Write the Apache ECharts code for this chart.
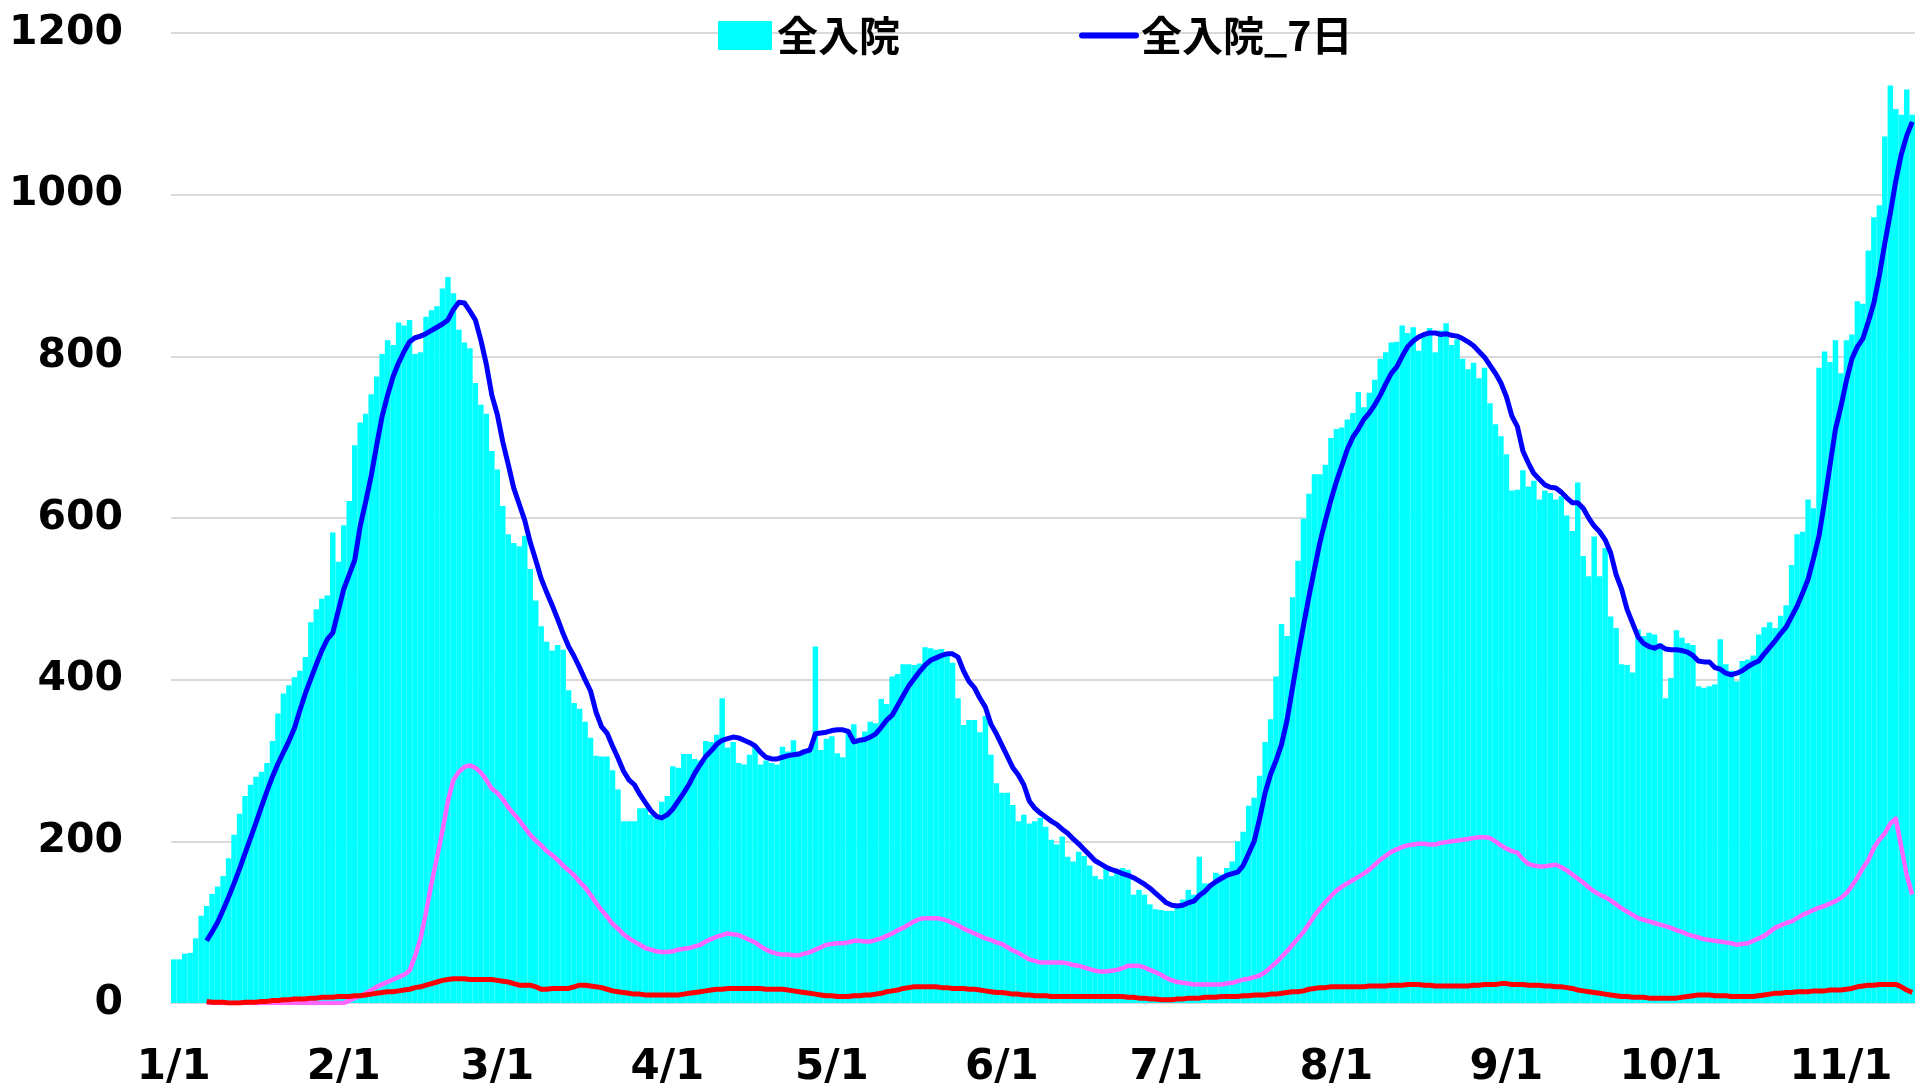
<!DOCTYPE html>
<html>
<head>
<meta charset="utf-8">
<title>全入院</title>
<script src="https://cdn.jsdelivr.net/npm/echarts/dist/echarts.min.js"></script>
<style>
  html, body { margin: 0; padding: 0; background: #fff; }
  #main { width: 1925px; height: 1089px; }
</style>
</head>
<body>
<div id="main"></div>
<script>
// 日付 (1/1 から 318 日分)
var monthDays = [31, 28, 31, 30, 31, 30, 31, 31, 30, 31, 30];
var dayCount = 318;

// 全入院 (日別)
var allAdmit = [
  54,54,61,62,80,108,120,135,144,157,
  179,208,234,256,270,280,286,297,324,358,
  383,393,403,411,428,471,487,500,504,582,
  546,591,621,690,718,729,753,775,803,820,
  814,842,838,845,803,805,849,857,862,884,
  898,878,833,817,810,767,740,729,683,660,
  615,580,569,565,578,537,498,466,447,436,
  443,437,387,371,364,348,328,306,305,305,
  288,264,225,225,225,241,241,233,228,249,
  256,293,291,308,308,302,300,324,323,332,
  377,316,323,297,295,307,317,295,300,297,
  295,317,311,325,311,314,313,441,313,327,
  330,309,304,336,345,325,336,348,346,376,
  370,404,407,419,419,418,420,440,439,437,
  438,432,421,377,344,350,350,335,355,307,
  272,260,260,245,225,233,222,225,229,218,
  202,196,206,181,175,187,182,170,157,153,
  168,157,163,167,165,134,140,134,122,116,
  115,114,114,120,128,140,134,181,148,148,
  161,159,167,175,200,212,244,254,281,323,
  351,404,469,454,502,547,599,630,654,654,
  666,699,710,712,722,730,756,737,755,771,
  797,805,817,818,838,829,836,807,824,835,
  805,832,841,814,821,797,784,792,773,786,
  742,716,701,679,634,635,659,639,646,623,
  634,631,623,627,603,584,644,553,528,577,
  528,563,478,464,419,418,409,462,454,458,
  456,445,377,402,461,452,445,443,392,390,
  392,394,450,419,411,398,423,425,430,456,
  465,471,464,479,492,542,580,583,623,612,
  786,806,793,820,779,820,827,868,865,931,
  972,987,1072,1135,1106,1099,1130,1099
];

// 線は 1/7 から
var lineStart = 6;

// 全入院_7日
var allAdmit7 = [
  77,88,100,115,131,148,166,185,204,223,
  243,262,280,296,310,324,340,362,383,401,
  419,436,450,458,485,512,530,548,590,620,
  652,690,726,752,775,792,806,818,823,825,
  828,832,836,840,845,858,867,866,856,845,
  820,790,752,728,694,666,637,617,597,570,
  548,525,508,492,475,457,441,429,415,400,
  386,360,342,334,318,303,287,276,270,258,
  248,238,231,229,233,240,250,260,271,284,
  295,305,312,320,325,327,329,328,325,322,
  318,310,304,302,302,304,306,307,308,311,
  313,333,334,335,337,338,338,336,323,325,
  326,329,333,341,350,356,368,380,392,401,
  410,418,424,427,430,432,432,428,411,398,
  390,377,366,345,333,319,305,291,282,270,
  250,241,235,230,225,221,215,210,203,197,
  190,183,176,172,168,165,163,160,158,155,
  151,147,142,136,130,124,121,120,121,124,
  126,133,138,145,150,154,158,160,162,170,
  185,200,228,260,283,300,320,350,390,430,
  467,503,537,570,597,622,645,665,685,700,
  710,722,730,740,752,766,779,787,800,812,
  819,824,827,829,829,827,828,826,825,822,
  818,813,806,799,789,779,767,750,726,713,
  683,668,655,648,641,638,637,632,625,619,
  619,612,600,590,583,573,557,530,512,487,
  470,453,445,441,439,442,438,437,437,436,
  434,430,423,422,422,415,413,408,406,408,
  411,416,420,423,432,440,448,457,465,478,
  491,507,524,550,578,620,665,710,738,770,
  797,812,822,843,866,900,940,977,1017,1050,
  1073,1090
];

// ピンク線
var pinkLine = [
  0,0,0,0,0,0,0,0,0,0,
  0,0,0,0,0,0,0,0,0,0,
  0,0,0,0,0,0,
  3,6,9,12,16,20,23,26,29,32,
  35,40,58,80,112,148,180,213,250,276,
  286,292,294,291,285,276,265,260,252,242,
  234,226,217,208,201,195,188,183,177,170,
  164,158,150,143,134,124,115,107,98,92,
  85,80,76,72,68,66,64,63,63,64,
  66,67,68,70,72,76,79,82,84,86,
  85,84,81,78,75,70,66,63,61,60,
  60,59,59,61,63,66,69,72,73,74,
  74,75,77,77,76,76,78,80,83,86,
  90,93,97,101,104,105,105,105,104,102,
  99,96,92,89,86,83,80,78,75,73,
  69,65,62,58,54,52,50,50,50,50,
  50,49,47,46,44,42,40,39,39,40,
  41,43,46,46,46,44,41,38,35,31,
  28,26,25,24,23,23,23,23,23,23,
  24,25,27,29,30,32,34,38,44,50,
  57,64,72,80,88,98,108,117,125,132,
  139,144,148,152,156,160,165,171,177,182,
  187,190,193,195,196,197,197,196,196,198,
  199,200,201,202,203,204,205,205,204,200,
  195,191,188,186,178,172,170,169,169,170,
  171,168,164,159,154,149,143,138,134,131,
  127,122,117,113,109,105,103,101,99,97,
  95,93,90,88,85,83,81,79,78,77,
  76,75,74,72,73,74,77,80,83,88,
  93,96,99,101,105,109,112,115,118,120,
  123,126,130,136,145,155,167,177,192,202,
  210,222,228,193,158,134
];

// 赤線
var redLine = [
  2,1,1,1,0,0,0,1,1,1,
  2,2,3,3,4,4,5,5,5,6,
  6,7,7,7,8,8,8,9,9,10,
  11,12,13,14,14,15,16,17,19,20,
  22,24,26,28,29,30,30,30,29,29,
  29,29,29,28,27,26,24,22,22,22,
  20,17,17,18,18,18,18,20,22,22,
  21,20,19,17,15,14,13,12,11,11,
  10,10,10,10,10,10,10,11,12,13,
  14,15,16,17,17,18,18,18,18,18,
  18,18,17,17,17,17,16,15,14,13,
  12,11,10,9,9,8,8,8,9,9,
  10,10,11,12,14,15,16,18,19,20,
  20,20,20,20,19,19,18,18,18,17,
  17,16,15,14,13,13,12,11,11,10,
  10,9,9,9,8,8,8,8,8,8,
  8,8,8,8,8,8,8,8,7,7,
  6,6,5,5,4,4,4,5,5,6,
  6,6,7,7,7,8,8,8,8,9,
  9,10,10,10,11,11,12,13,14,14,
  15,17,18,19,19,20,20,20,20,20,
  20,20,21,21,21,21,22,22,22,23,
  23,23,22,22,21,21,21,21,21,21,
  21,22,22,23,23,23,24,24,23,23,
  23,22,22,22,21,21,20,20,19,18,
  16,15,14,13,12,11,10,9,8,8,
  7,7,7,6,6,6,6,6,6,7,
  8,9,10,10,10,9,9,9,8,8,
  8,8,8,9,10,11,12,12,13,13,
  14,14,14,15,15,15,16,16,16,17,
  18,20,21,22,22,23,23,23,23,20,
  16,13
];

function makeDates(){
    var out = [];
    for (var m = 0; m < monthDays.length; m++) {
        for (var d = 1; d <= monthDays[m]; d++) {
            if (out.length < dayCount) out.push((m + 1) + '/' + d);
        }
    }
    return out;
}

function padLine(arr){
    var out = [];
    for (var i = 0; i < lineStart; i++) out.push(null);
    return out.concat(arr);
}

// 月初めだけ表示
function isMonthStart(index, value){
    return value.split('/')[1] === '1';
}

var dates = makeDates();
var myChart = echarts.init(document.getElementById('main'));
var option = {
    animation: false,
    textStyle: { fontFamily: 'DejaVu Sans, Noto Sans CJK JP' },
    legend: {
        left: 713,
        top: 10,
        itemWidth: 54,
        itemHeight: 29,
        itemGap: 179,
        data: [
            { name: '全入院', icon: 'rect' },
            { name: '全入院_7日', itemStyle: { opacity: 0 }, lineStyle: { width: 6, cap: 'round' } }
        ],
        textStyle: {
            fontSize: 41,
            fontWeight: 'bold',
            color: '#000',
            fontFamily: 'Noto Sans CJK JP'
        }
    },
    grid: { left: 171, right: 10, top: 33, bottom: 86, outerBoundsMode: 'none' },
    xAxis: {
        type: 'category',
        data: dates,
        boundaryGap: true,
        axisLine: { lineStyle: { color: '#d9d9d9', width: 2 } },
        axisTick: {
            interval: isMonthStart,
            length: 15,
            lineStyle: { color: '#d9d9d9', width: 2 }
        },
        axisLabel: {
            interval: isMonthStart,
            margin: 44,
            fontSize: 42,
            fontWeight: 'bold',
            color: '#000'
        }
    },
    yAxis: {
        type: 'value',
        min: 0,
        max: 1200,
        interval: 200,
        axisLine: { show: false },
        axisTick: { show: false },
        splitLine: { lineStyle: { color: '#d9d9d9', width: 2 } },
        axisLabel: {
            margin: 48,
            fontSize: 41,
            fontWeight: 'bold',
            color: '#000',
            padding: [0, 0, 16, 0],
            formatter: function(v){ return String(v); }
        }
    },
    series: [{
        name: '全入院',
        type: 'bar',
        data: allAdmit,
        barCategoryGap: '0%',
        barGap: 0,
        itemStyle: { color: '#00ffff' }
    }, {
        name: '全入院_7日',
        type: 'line',
        data: padLine(allAdmit7),
        symbol: 'none',
        lineStyle: { color: '#0000ff', width: 5, join: 'round' },
        itemStyle: { color: '#0000ff' }
    }, {
        name: 'pink',
        type: 'line',
        data: padLine(pinkLine),
        symbol: 'none',
        lineStyle: { color: '#ff66ff', width: 4.5, join: 'round' },
        itemStyle: { color: '#ff66ff' }
    }, {
        name: 'red',
        type: 'line',
        data: padLine(redLine),
        symbol: 'none',
        lineStyle: { color: '#ff0000', width: 5, join: 'round' },
        itemStyle: { color: '#ff0000' }
    }]
};
myChart.setOption(option);
</script>
</body>
</html>
